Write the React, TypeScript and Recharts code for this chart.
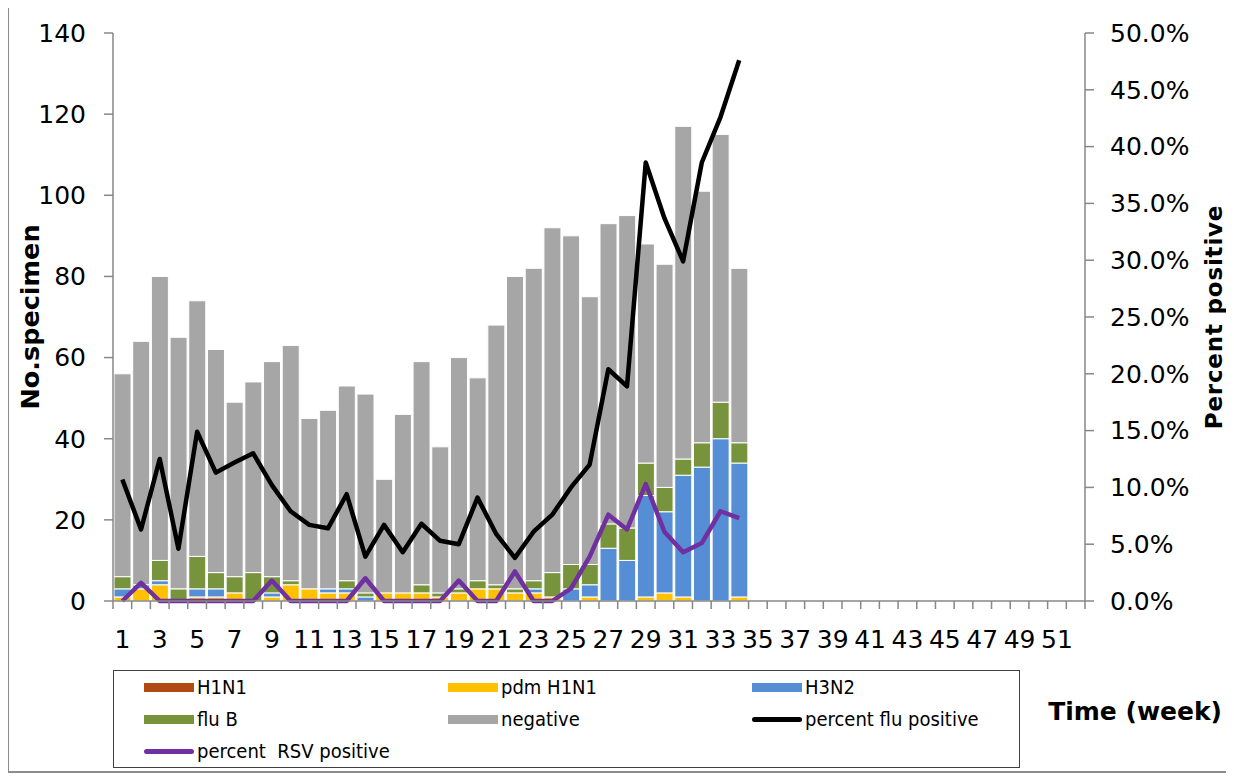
import React from "react";
import { ComposedChart, Bar, Line, XAxis, YAxis, Legend } from "recharts";

// weeks on the x axis
const weeks = [
  1, 2, 3, 4, 5, 6, 7, 8, 9, 10, 11, 12, 13, 14, 15, 16, 17, 18, 19, 20, 21, 22, 23, 24, 25, 26,
  27, 28, 29, 30, 31, 32, 33, 34, 35, 36, 37, 38, 39, 40, 41, 42, 43, 44, 45, 46, 47, 48, 49, 50,
  51, 52,
];

// specimen counts per week (weeks 1-34 reported)
const h1n1 = [0, 0, 0, 0, 0, 0, 0, 0, 0, 0, 0, 0, 0, 0, 0, 0, 0, 0, 0, 0, 0, 0, 0, 0, 0, 0, 0, 0, 0, 0, 0, 0, 0, 0];
const pdmH1n1 = [1, 3, 4, 0, 1, 1, 2, 0, 1, 4, 3, 2, 2, 0, 2, 2, 2, 1, 2, 3, 3, 2, 2, 1, 0, 1, 0, 0, 1, 2, 1, 0, 0, 1];
const h3n2 = [2, 1, 1, 0, 2, 2, 0, 0, 1, 0, 0, 1, 1, 1, 0, 0, 0, 0, 0, 0, 0, 0, 1, 0, 3, 3, 13, 10, 25, 20, 30, 33, 40, 33];
const fluB = [3, 0, 5, 3, 8, 4, 4, 7, 4, 1, 0, 0, 2, 1, 0, 0, 2, 1, 1, 2, 1, 1, 2, 6, 6, 5, 6, 8, 8, 6, 4, 6, 9, 5];
const negative = [50, 60, 70, 62, 63, 55, 43, 47, 53, 58, 42, 44, 48, 49, 28, 44, 55, 36, 57, 50, 64, 77, 77, 85, 81, 66, 74, 77, 54, 55, 82, 62, 66, 43];

// percentages (right axis)
const fluPct = [10.7, 6.3, 12.5, 4.6, 14.9, 11.3, 12.2, 13.0, 10.2, 7.9, 6.7, 6.4, 9.4, 3.9, 6.7, 4.3, 6.8, 5.3, 5.0, 9.1, 5.9, 3.8, 6.1, 7.6, 10.0, 12.0, 20.4, 18.9, 38.6, 33.7, 29.9, 38.6, 42.6, 47.6];
const rsvPct = [0, 1.6, 0, 0, 0, 0, 0, 0, 1.8, 0, 0, 0, 0, 2.0, 0, 0, 0, 0, 1.8, 0, 0, 2.6, 0, 0, 1.1, 3.9, 7.6, 6.3, 10.3, 6.1, 4.3, 5.1, 7.9, 7.3];

const leftTicks = [0, 20, 40, 60, 80, 100, 120, 140];
const rightTicks = [0, 5, 10, 15, 20, 25, 30, 35, 40, 45, 50];

const data = weeks.map((w, i) => ({
  week: w,
  h1n1: h1n1[i],
  pdm: pdmH1n1[i],
  h3n2: h3n2[i],
  fluB: fluB[i],
  negative: negative[i],
  fluPct: fluPct[i],
  rsvPct: rsvPct[i],
}));

const colors = {
  h1n1: "#B04A12",
  pdm: "#FFC000",
  h3n2: "#558ED5",
  fluB: "#77933C",
  negative: "#A6A6A6",
  flu: "#000000",
  rsv: "#7030A0",
};

const legendItems = [
  { name: "H1N1", color: colors.h1n1, line: false },
  { name: "pdm H1N1", color: colors.pdm, line: false },
  { name: "H3N2", color: colors.h3n2, line: false },
  { name: "flu B", color: colors.fluB, line: false },
  { name: "negative", color: colors.negative, line: false },
  { name: "percent flu positive", color: colors.flu, line: true },
  { name: "percent  RSV positive", color: colors.rsv, line: true },
];

const W = 1222;
const H = 764;
const PLOT_W = 972;
const AXIS = "#878787";
const FONT = "DejaVu Sans";

const WeekTick = (props: any) => {
  const { x, y, payload, index } = props;
  const half = PLOT_W / weeks.length / 2;
  return (
    <g>
      <line x1={x - half} x2={x - half} y1={y - 8} y2={y} stroke={AXIS} strokeWidth={1.5} />
      {index === weeks.length - 1 && (
        <line x1={x + half} x2={x + half} y1={y - 8} y2={y} stroke={AXIS} strokeWidth={1.5} />
      )}
      {payload.value % 2 === 1 && (
        <text x={x} y={y + 39} textAnchor="middle" fontSize={25} fontFamily={FONT} fill="#000">
          {payload.value}
        </text>
      )}
    </g>
  );
};

const LegendBox = () => (
  <div
    style={{
      width: 907,
      height: 98,
      border: "1.5px solid #404040",
      boxSizing: "border-box",
      position: "relative",
      background: "#fff",
      fontFamily: "DejaVu Sans Condensed",
      fontSize: 20,
      color: "#000",
    }}
  >
    {legendItems.map((it, i) => {
      const col = i % 3;
      const row = Math.floor(i / 3);
      return (
        <div
          key={it.name}
          style={{
            position: "absolute",
            left: 30 + col * 304,
            top: 2 + row * 32,
            height: 28,
            display: "flex",
            alignItems: "center",
            whiteSpace: "pre",
          }}
        >
          <span
            style={{
              display: "inline-block",
              width: 50,
              height: it.line ? 5 : 9,
              borderRadius: it.line ? 3 : 0,
              background: it.color,
              marginRight: 3,
            }}
          />
          <span style={{ lineHeight: 1 }}>{it.name}</span>
        </div>
      );
    })}
  </div>
);

const App: React.FC = () => {
  return (
    <div
      style={{
        position: "relative",
        width: 1226,
        height: 768,
        border: "2px solid #8c8c8c",
        boxSizing: "border-box",
        margin: "-3px 0 0 -1px",
        background: "#fff",
      }}
    >
      <ComposedChart
        width={W}
        height={H}
        data={data}
        margin={{ top: 26, right: 26, left: 8, bottom: 12 }}
        barCategoryGap={1}
        style={{ fontFamily: FONT }}
      >
        <XAxis
          dataKey="week"
          height={60}
          interval={0}
          tickLine={false}
          tickSize={8}
          tickMargin={0}
          axisLine={{ stroke: AXIS, strokeWidth: 1.5 }}
          tick={<WeekTick />}
          label={(p: any) => (
            <text
              x={p.viewBox.x + p.viewBox.width + 137}
              y={p.viewBox.y + 119}
              textAnchor="end"
              fontSize={25}
              fontWeight="bold"
              fontFamily={FONT}
              fill="#000"
            >
              Time (week)
            </text>
          )}
        />
        <YAxis
          yAxisId="left"
          width={96}
          domain={[0, 140]}
          ticks={leftTicks}
          tickSize={9}
          tickMargin={18}
          axisLine={{ stroke: AXIS, strokeWidth: 1.5 }}
          tickLine={{ stroke: AXIS, strokeWidth: 1.5 }}
          tick={{ fill: "#000", fontSize: 25, fontFamily: FONT }}
          label={(p: any) => {
            const cx = p.viewBox.x + 13;
            const cy = p.viewBox.y + p.viewBox.height / 2;
            return (
              <text
                x={cx}
                y={cy}
                transform={`rotate(-90, ${cx}, ${cy})`}
                textAnchor="middle"
                dominantBaseline="central"
                fontSize={25.5}
                fontWeight="bold"
                fontFamily={FONT}
                fill="#000"
              >
                No.specimen
              </text>
            );
          }}
        />
        <YAxis
          yAxisId="right"
          orientation="right"
          width={120}
          domain={[0, 50]}
          ticks={rightTicks}
          tickSize={9}
          tickMargin={16}
          tickFormatter={(v: number) => `${v.toFixed(1)}%`}
          axisLine={{ stroke: AXIS, strokeWidth: 1.5 }}
          tickLine={{ stroke: AXIS, strokeWidth: 1.5 }}
          tick={{ fill: "#000", fontSize: 25, fontFamily: FONT }}
          label={(p: any) => {
            const cx = p.viewBox.x + 129;
            const cy = p.viewBox.y + p.viewBox.height / 2;
            return (
              <text
                x={cx}
                y={cy}
                transform={`rotate(-90, ${cx}, ${cy})`}
                textAnchor="middle"
                dominantBaseline="central"
                fontSize={23}
                letterSpacing={0.8}
                fontWeight="bold"
                fontFamily={FONT}
                fill="#000"
              >
                Percent positive
              </text>
            );
          }}
        />
        <Legend
          content={<LegendBox />}
          verticalAlign="bottom"
          wrapperStyle={{ left: 104, top: 663, bottom: "auto", width: 907 }}
        />
        <Bar yAxisId="left" stackId="a" dataKey="h1n1" name="H1N1" fill={colors.h1n1} stroke="#fff" strokeWidth={1} isAnimationActive={false} />
        <Bar yAxisId="left" stackId="a" dataKey="pdm" name="pdm H1N1" fill={colors.pdm} stroke="#fff" strokeWidth={1} isAnimationActive={false} />
        <Bar yAxisId="left" stackId="a" dataKey="h3n2" name="H3N2" fill={colors.h3n2} stroke="#fff" strokeWidth={1} isAnimationActive={false} />
        <Bar yAxisId="left" stackId="a" dataKey="fluB" name="flu B" fill={colors.fluB} stroke="#fff" strokeWidth={1} isAnimationActive={false} />
        <Bar yAxisId="left" stackId="a" dataKey="negative" name="negative" fill={colors.negative} stroke="#fff" strokeWidth={1} isAnimationActive={false} />
        <Line
          yAxisId="right"
          dataKey="fluPct"
          name="percent flu positive"
          stroke={colors.flu}
          strokeWidth={4.5}
          strokeLinejoin="round"
          dot={false}
          activeDot={false}
          isAnimationActive={false}
        />
        <Line
          yAxisId="right"
          dataKey="rsvPct"
          name="percent  RSV positive"
          stroke={colors.rsv}
          strokeWidth={4.5}
          strokeLinejoin="round"
          dot={false}
          activeDot={false}
          isAnimationActive={false}
        />
      </ComposedChart>
    </div>
  );
};

export default App;
